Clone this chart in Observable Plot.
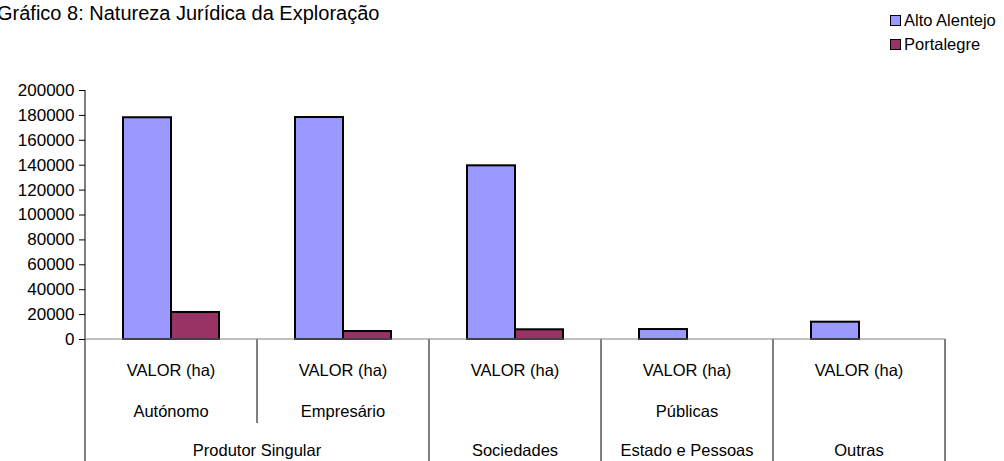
<!DOCTYPE html>
<html>
<head>
<meta charset="utf-8">
<script src="https://cdn.jsdelivr.net/npm/d3@7"></script>
<script src="https://cdn.jsdelivr.net/npm/@observablehq/plot@0.6"></script>
<style>
  html, body { margin: 0; padding: 0; background: #fff; }
  #wrap { position: relative; width: 1004px; height: 461px; overflow: hidden; font-family: "Liberation Sans", Arial, sans-serif; }
  #title { position: absolute; left: -3px; top: 2px; font-size: 20px; color: #000; white-space: nowrap; }
  .leg { position: absolute; left: 890px; font-size: 16.5px; color: #000; display: flex; align-items: center; white-space: nowrap; }
  .sw { width: 9px; height: 9px; border: 1.8px solid #000; margin-right: 3px; }
</style>
</head>
<body>
<div id="wrap">
  <div id="chart"></div>
  <div id="title"></div>
  <div id="legend"></div>
</div>
<script>
// ---- data ----
const categories = ["Autónomo", "Empresário", "Sociedades", "Estado e Pessoas Públicas", "Outras"];
const series = ["Alto Alentejo", "Portalegre"];
const seriesColors = ["#9999FF", "#993366"];
const altoAlentejo = [178100, 178300, 139500, 8000, 13900];
const portalegre = [21700, 6400, 7800, null, null];
const row1Labels = ["VALOR (ha)", "VALOR (ha)", "VALOR (ha)", "VALOR (ha)", "VALOR (ha)"];
const row2Labels = ["Autónomo", "Empresário", "", "Públicas", ""];
const row3Labels = ["Produtor Singular", "Sociedades", "Estado e Pessoas", "Outras"];
const row3Spans = [2, 1, 1, 1];
const titleText = "Gráfico 8: Natureza Jurídica da Exploração";

// ---- table for Plot ----
const rows = [];
categories.forEach((c, i) => {
  rows.push({cat: c, series: series[0], value: altoAlentejo[i]});
  rows.push({cat: c, series: series[1], value: portalegre[i]});
});
const bars = rows.filter(d => d.value != null);

const W = 1004, H = 461;
const chart = Plot.plot({
  width: W,
  height: H,
  marginLeft: 84,
  marginRight: 58,
  marginTop: 90,
  marginBottom: 122,
  style: {fontFamily: "'Liberation Sans', Arial, sans-serif", fontSize: "17px", color: "#000", background: "#fff", overflow: "visible"},
  facet: {data: bars, x: "cat"},
  fx: {domain: categories, padding: 0, axis: null},
  x: {domain: series, paddingInner: 0, paddingOuter: 0.76, axis: null},
  y: {domain: [0, 200000], ticks: 10, tickSize: 6, tickPadding: 5, tickFormat: d => String(d), label: null},
  color: {domain: series, range: seriesColors},
  marks: [
    Plot.barY(bars, {x: "series", y: "value", fill: "series", stroke: "#000", strokeWidth: 2})
  ]
});
document.getElementById("chart").appendChild(chart);

// ---- category table / axis lines drawn from Plot's scales ----
const svg = d3.select(chart);
const fx = chart.scale("fx");
const y = chart.scale("y");
const bw = fx.bandwidth;
const left = c => fx.apply(c);
const y0 = y.apply(0);
const yTop = y.apply(200000);
const xStart = left(categories[0]);
const xEnd = left(categories[categories.length - 1]) + bw;
const g = svg.append("g");

// y axis line
g.append("line").attr("x1", xStart).attr("x2", xStart).attr("y1", yTop).attr("y2", y0)
  .attr("stroke", "#000").attr("stroke-width", 1);
// separators below axis
const bounds = categories.map(left).concat([xEnd]);
bounds.forEach((bx, i) => {
  const inner = (i === 1); // boundary inside "Produtor Singular"
  g.append("line").attr("x1", bx).attr("x2", bx).attr("y1", y0).attr("y2", inner ? y0 + 84 : H)
    .attr("stroke", "#000").attr("stroke-width", 1);
});
// zero line
g.append("line").attr("x1", xStart).attr("x2", xEnd).attr("y1", y0).attr("y2", y0)
  .attr("stroke", "#808080").attr("stroke-width", 1.2);

const labelStyle = sel => sel.attr("text-anchor", "middle").attr("dominant-baseline", "middle")
  .attr("font-size", "16.5px").attr("fill", "#000");
categories.forEach((c, i) => {
  const cx = left(c) + bw / 2;
  g.append("text").call(labelStyle).attr("x", cx).attr("y", y0 + 33).text(row1Labels[i]);
  if (row2Labels[i]) g.append("text").call(labelStyle).attr("x", cx).attr("y", y0 + 74).text(row2Labels[i]);
});
let k = 0;
row3Labels.forEach((lab, j) => {
  const a = left(categories[k]);
  const b = left(categories[k + row3Spans[j] - 1]) + bw;
  g.append("text").call(labelStyle).attr("x", (a + b) / 2).attr("y", y0 + 113).text(lab);
  k += row3Spans[j];
});

// ---- title & legend ----
document.getElementById("title").textContent = titleText;
const legend = document.getElementById("legend");
series.forEach((s, i) => {
  const d = document.createElement("div");
  d.className = "leg";
  d.style.top = (11 + i * 24) + "px";
  d.innerHTML = `<span class="sw" style="background:${seriesColors[i]}"></span><span></span>`;
  d.lastChild.textContent = s;
  legend.appendChild(d);
});
</script>
</body>
</html>
